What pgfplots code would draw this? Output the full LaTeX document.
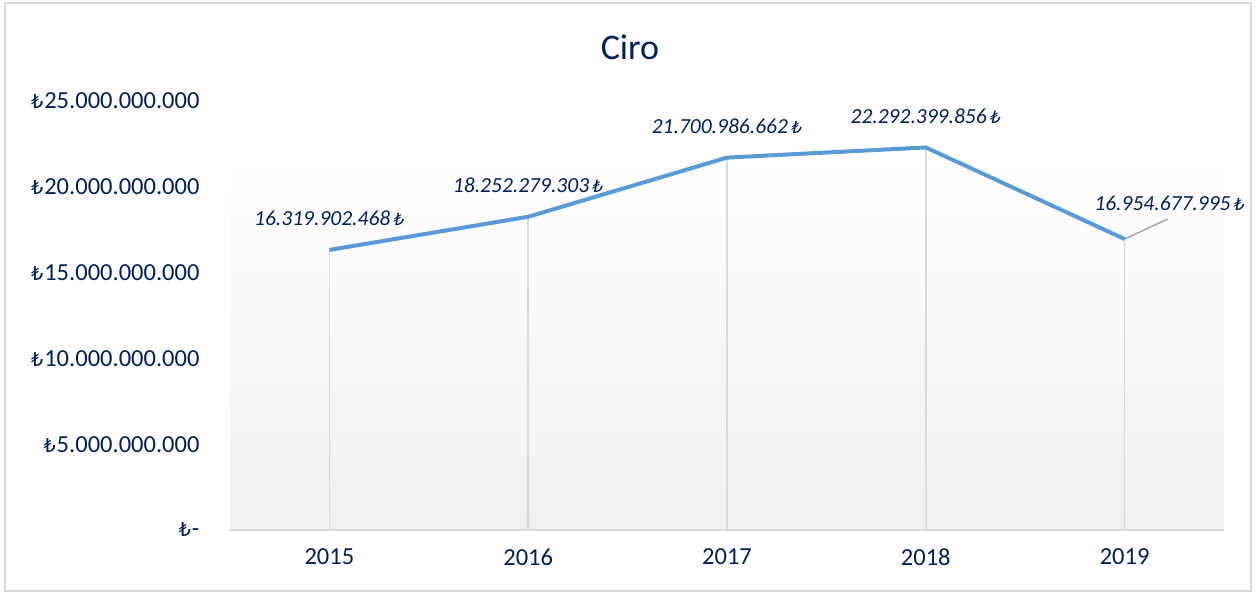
\documentclass[border=0pt]{standalone}
\usepackage{fontspec}
\setmainfont{Carlito}
\newfontfamily\lirafont[Scale=0.78]{DejaVu Sans}
\newcommand\TL{{\lirafont ₺}}
\usepackage{pgfplots}
\pgfplotsset{compat=1.18}
\definecolor{navy}{RGB}{0,32,96}
\definecolor{linecol}{RGB}{91,155,213}
\definecolor{dropc}{RGB}{217,217,217}
\definecolor{framec}{RGB}{217,217,217}
\definecolor{leader}{RGB}{166,166,166}

\begin{document}
\begin{tikzpicture}[x=1bp,y=1bp]
\begin{axis}[
  at={(0,0)}, anchor=south west,
  scale only axis, width=994bp, height=429bp,
  xmin=2014.5, xmax=2019.5, ymin=0, ymax=25e9,
  scaled y ticks=false,
  axis line style={draw=none},
  tick style={draw=none},
  xtick={2015,2016,2017,2018,2019},
  xticklabels={2015,2016,2017,2018,2019},
  ytick={0,5e9,10e9,15e9,20e9,25e9},
  yticklabels={\TL\kern1bp-,\TL\kern1bp5.000.000.000,\TL\kern1bp10.000.000.000,\TL\kern1bp15.000.000.000,\TL\kern1bp20.000.000.000,\TL\kern1bp25.000.000.000},
  ticklabel style={font=\fontsize{24.5bp}{28bp}\selectfont, text=navy},
  yticklabel style={xshift=-27bp},
  xticklabel style={yshift=-15bp},
  clip=false,
]
% plot area fill
\fill[top color=white, bottom color=gray!12] (rel axis cs:0,0) rectangle (rel axis cs:1,0.874);
\draw[dropc, line width=2bp] (rel axis cs:0,0) -- (rel axis cs:1,0);
% drop lines
\addplot[ycomb, draw=dropc, line width=1.5bp, mark=none]
  coordinates {(2015,16319902468)(2016,18252279303)(2017,21700986662)(2018,22292399856)(2019,16954677995)};
% leader line for the last label
\draw[leader, line width=1.5bp] (axis cs:2019,16954677995) -- ++(43bp,20bp);
% ciro line
\addplot[linecol, line width=4bp, mark=none, line join=round]
  coordinates {(2015,16319902468)(2016,18252279303)(2017,21700986662)(2018,22292399856)(2019,16954677995)};
% data labels
\addplot[draw=none, mark=none, nodes near coords, point meta=explicit symbolic,
  every node near coord/.style={anchor=base, yshift=24bp, inner sep=0pt,
    font=\fontsize{21.5bp}{25bp}\selectfont\itshape, text=navy}]
  coordinates {(2015,16319902468)[16.319.902.468\,\TL]
               (2016,18252279303)[18.252.279.303\,\TL]
               (2017,21700986662)[21.700.986.662\,\TL]
               (2018,22292399856)[22.292.399.856\,\TL]};
\addplot[draw=none, mark=none, nodes near coords, point meta=explicit symbolic,
  every node near coord/.style={anchor=base, xshift=45bp, yshift=29bp, inner sep=0pt,
    font=\fontsize{21.5bp}{25bp}\selectfont\itshape, text=navy}]
  coordinates {(2019,16954677995)[16.954.677.995\,\TL]};
\end{axis}
\node[font=\fontsize{36bp}{40bp}\selectfont, text=navy] at (400,483) {Ciro};
\draw[framec, line width=1.5bp] (-225,-61) rectangle (1021,527);
\pgfresetboundingbox
\path[use as bounding box] (-230,-64) rectangle (1027,530);
\end{tikzpicture}
\end{document}
